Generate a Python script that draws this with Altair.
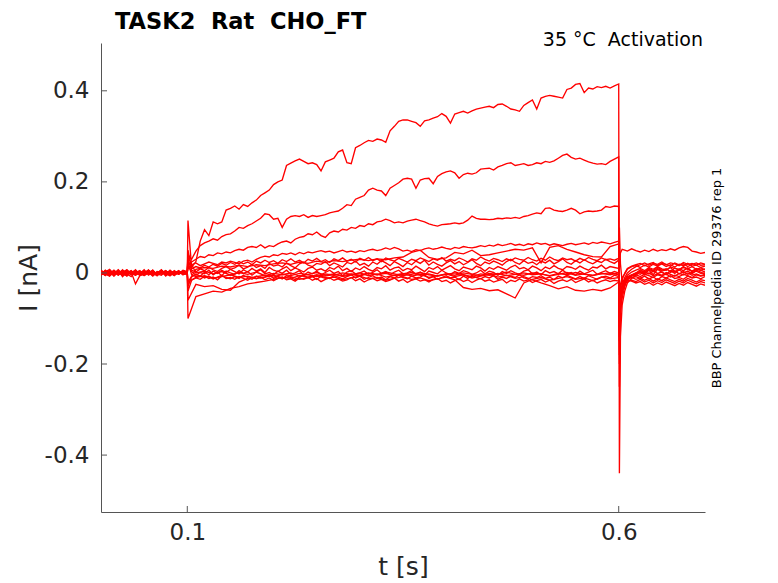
import pandas as pd
import altair as alt

# ---------------- axis ticks / text ----------------
X_TICKS = [0.1, 0.6]
Y_TICKS = [-0.4, -0.2, 0, 0.2, 0.4]
TITLE = "TASK2\u00a0 Rat\u00a0 CHO_FT"
SUBTITLE = "35 °C\u00a0 Activation"
ID_TEXT = "BBP Channelpedia ID 29376 rep 1"

# ---------------- sample times (s) ----------------
PRE_T = [round(0.005 * i, 3) for i in range(21)]          # 0.000 .. 0.100
ON_T = 0.1008                                             # capacitive transient
OFF_T = [0.6008, 0.602, 0.604, 0.607, 0.61, 0.615, 0.62,
         0.625, 0.63, 0.635, 0.64, 0.645, 0.65, 0.655, 0.66,
         0.665, 0.67, 0.675, 0.68, 0.685, 0.69, 0.695, 0.70]

# ---------------- current traces (pA) ----------------
T1_PRE = [3, -4, 6, -2, 5, -8, 2, -3, 4, -1, 7, -5, 1, -6, 3, 0, -4, 5, -2, 4, 2]
T1_ON = 115
T1_STEP = [12, 25, 70, 95, 82, 112, 108, 112, 138, 142,
           147, 140, 150, 146, 154, 160, 170, 176, 182, 194,
           200, 204, 236, 241, 246, 250, 245, 240, 242, 238,
           224, 244, 248, 252, 266, 270, 242, 240, 275, 280,
           286, 291, 289, 294, 292, 287, 312, 322, 333, 336,
           336, 333, 330, 322, 334, 336, 340, 343, 350, 344,
           329, 349, 352, 355, 351, 356, 360, 362, 364, 366,
           363, 370, 371, 366, 360, 358, 355, 368, 374, 380,
           360, 384, 388, 390, 388, 386, 384, 403, 406, 414,
           416, 396, 406, 404, 409, 407, 410, 406, 411, 415]
T1_OFF = [-440, -140, -70, -40, -22, -12, -5, 3, -2, 6, -4, 8, 1, -3, 5, -1, 7, 0, 4, -2, 6, 2, -3]

T2_PRE = [-2, 5, -6, 1, -3, 7, -4, 3, -5, 2, -1, 6, -3, 0, 4, -7, 2, -2, 5, -4, 0]
T2_ON = 40
T2_STEP = [30, 48, 60, 66, 70, 75, 72, 80, 84, 86,
           92, 100, 98, 104, 108, 114, 120, 130, 128, 118,
           120, 100, 118, 124, 126, 124, 128, 122, 126, 124,
           126, 128, 132, 134, 136, 142, 150, 148, 162, 166,
           170, 182, 186, 182, 180, 170, 186, 192, 198, 206,
           208, 206, 186, 204, 207, 208, 196, 212, 218, 222,
           224, 220, 208, 216, 219, 217, 220, 228, 229, 230,
           226, 233, 236, 240, 242, 236, 238, 240, 236, 238,
           242, 240, 245, 243, 246, 252, 258, 261, 254, 250,
           252, 248, 244, 241, 239, 240, 238, 245, 250, 255]
T2_OFF = [-250, -90, -55, -30, -15, -6, -2, 5, 1, 8, 3, 10, 4, 7, 12, 2, 9, 5, 11, 3, 8, 6, 2]

T3_PRE = [4, -3, 2, -7, 3, -2, 6, -4, 1, 5, -6, 0, 3, -2, 7, -5, 1, 4, -3, 2, -1]
T3_ON = 20
T3_STEP = [24, 30, 36, 34, 40, 38, 44, 42, 46, 44,
           49, 52, 50, 56, 58, 56, 62, 55, 60, 58,
           64, 68, 70, 66, 74, 78, 80, 86, 84, 90,
           82, 78, 88, 92, 90, 96, 94, 100, 98, 104,
           102, 108, 106, 112, 114, 118, 115, 110, 112, 110,
           114, 116, 118, 115, 112, 108, 105, 103, 106, 107,
           108, 110, 108, 110, 116, 125, 120, 118, 118, 117,
           118, 120, 119, 121, 120, 122, 120, 124, 126, 129,
           132, 130, 142, 143, 138, 136, 135, 138, 142, 138,
           130, 134, 136, 135, 136, 138, 146, 144, 147, 146]
T3_OFF = [-150, -60, -40, -22, -12, -5, 0, 7, 2, 10, 5, 13, 6, 9, 3, 11, 7, 14, 8, 4, 10, 6, 9]

T4_PRE = [-5, 2, 8, -3, 4, -1, -6, 3, 0, -4, 5, -2, 6, -5, 1, 3, -6, 2, -1, 4, 2]
T4_ON = 10
T4_STEP = [18, 22, 16, 20, 24, 21, 18, 24, 22, 26,
           23, 20, 26, 28, 24, 30, 34, 37, 35, 40,
           38, 43, 41, 44, 40, 45, 42, 46, 44, 47,
           49, 46, 48, 44, 47, 50, 46, 48, 45, 49,
           47, 50, 52, 49, 51, 55, 52, 56, 53, 48,
           50, 47, 51, 49, 53, 55, 52, 54, 57, 54,
           52, 56, 54, 58, 56, 55, 57, 60, 58, 61,
           59, 63, 60, 62, 65, 61, 63, 60, 64, 62,
           66, 63, 65, 61, 64, 62, 60, 63, 65, 62,
           64, 66, 63, 67, 65, 68, 66, 64, 67, 70]
T4_OFF = [25, 44, 52, 50, 48, 53, 49, 46, 50, 47, 52, 48, 51, 49, 53, 50, 55, 58, 56, 48, 46, 43, 45]

T5_PRE = [1, -6, 4, -2, 7, -3, 0, 5, -4, 3, -1, 6, -5, 2, -3, 4, 0, -6, 3, -2, 1]
T5_ON = -20
T5_STEP = [8, 12, 10, 15, 13, 17, 14, 18, 16, 20,
           22, 19, 24, 21, 26, 23, 27, 25, 28, 30,
           27, 31, 29, 33, 35, 45, 50, 34, 30, 33,
           45, 42, 50, 38, 40, 44, 48, 52, 50, 55,
           22, 56, 60, 52, 46, 40, 36, 35, 58, 64]
T5_OFF = [-60, -25, -10, -2, 8, 14, 16, 12, 17, 13, 19, 15, 20, 14, 18, 13, 19, 16, 21, 15, 17, 12, 15]

B1_PRE = [-3, 6, -1, 4, -5, 2, 7, -2, 3, -6, 1, 5, -4, 0, 6, -3, 2, -5, 4, -1, 1]
B1_ON = 30
B1_STEP = [6, 2, 9, 5, 12, 7, 3, 10, 14, 8,
           11, 17, 9, 13, 19, 12, 16, 10, 21, 15,
           18, 13, 22, 16, 11, 20, 24, 17, 14, 21,
           19, 25, 16, 22, 18, 13, 23, 20, 26, 17,
           21, 15, 24, 19, 27, 22, 16, 25, 20, 14,
           23, 18, 26, 21, 28, 17, 24, 19, 15, 22,
           27, 20, 25, 18, 23, 29, 21, 16, 24, 20,
           26, 22, 17, 25, 30, 23, 19, 27, 21, 24,
           18, 26, 22, 28, 20, 25, 31, 23, 19, 27,
           22, 29, 24, 20, 26, 23, 30, 25, 21, 28]
B1_OFF = [-90, -40, -25, -10, 0, 8, 14, 18, 22, 17, 21, 19, 24, 18, 22, 20, 16, 23, 19, 21, 17, 22, 19]

B2_PRE = [5, -2, -7, 3, 1, -4, 4, -1, -5, 2, -3, 6, 0, -6, 3, -2, 5, -4, 1, -1, -2]
B2_ON = -30
B2_STEP = [-9, -3, -7, 2, -4, 4, -1, 6, 1, 8,
           3, -2, 7, 2, 10, 4, 9, 1, 12, 6,
           3, 9, 14, 5, 11, 7, 2, 10, 13, 6,
           9, 4, 12, 8, 15, 5, 10, 3, 11, 7,
           14, 8, 4, 12, 9, 16, 6, 11, 13, 5,
           10, 7, 15, 9, 3, 12, 8, 14, 6, 11,
           16, 9, 5, 13, 10, 7, 15, 11, 4, 12,
           8, 14, 10, 6, 13, 17, 9, 12, 7, 15,
           11, 5, 13, 9, 16, 10, 7, 14, 12, 8,
           15, 10, 6, 13, 11, 17, 9, 14, 12, 10]
B2_OFF = [100, 20, -20, -15, -5, 2, 6, 10, 5, 12, 8, 14, 9, 6, 13, 10, 7, 12, 9, 14, 8, 11, 7]

B3_PRE = [-1, 3, -4, 6, -2, 0, -7, 2, 5, -3, 4, -1, -5, 3, 1, -4, 6, -2, 0, 3, 0]
B3_ON = 15
B3_STEP = [3, -5, 1, -2, 6, -4, 2, -6, 4, 0,
           -3, 5, -1, 3, -5, 2, 7, -2, 1, -4,
           4, -1, 6, -3, 0, 5, -5, 2, -2, 4,
           -4, 1, 6, -1, 3, -6, 2, 5, -2, 0,
           4, -3, 1, 7, -1, 3, -4, 2, 6, -2,
           0, 5, -3, 2, -5, 4, 1, -2, 6, 0,
           -4, 3, -1, 5, 2, -3, 0, 6, -2, 4,
           1, -5, 3, -1, 5, 0, -3, 4, 7, -2,
           2, -4, 5, 0, 3, -2, 6, -1, 1, -5,
           4, -2, 2, 6, -3, 1, 5, -1, 3, 0]
B3_OFF = [-120, -50, -30, -15, -8, -4, 0, -3, 3, -2, 4, -1, 2, -4, 1, 5, -2, 3, -3, 1, 4, -1, 0]

B4_PRE = [2, -5, 1, -3, 6, -6, 3, -2, -1, 4, -4, 2, -7, 1, 5, -3, 0, -5, 3, -2, -3]
B4_ON = -40
B4_STEP = [-16, -11, -14, -7, -12, -9, -15, -6, -10, -13,
           -8, -12, -5, -10, -14, -7, -11, -9, -4, -12,
           -8, -13, -6, -10, -15, -9, -5, -11, -8, -14,
           -7, -10, -12, -6, -9, -13, -8, -4, -11, -7,
           -14, -10, -6, -12, -9, -15, -8, -11, -5, -10,
           -13, -7, -11, -9, -4, -12, -8, -14, -10, -6,
           -11, -9, -15, -7, -12, -5, -10, -13, -8, -11,
           -6, -14, -9, -12, -7, -10, -4, -11, -13, -8,
           -10, -6, -12, -9, -15, -7, -11, -5, -9, -13,
           -8, -12, -6, -10, -14, -9, -7, -11, -5, -8]
B4_OFF = [-180, -70, -40, -25, -14, -10, -8, -12, -7, -13, -9, -15, -8, -11, -6, -12, -10, -14, -7, -11, -9, -13, -8]

B5_PRE = [-4, 1, 5, -6, 2, 3, -2, -8, 4, -1, -5, 3, 0, -3, 6, -2, -6, 1, 4, -4, 2]
B5_ON = 25
B5_STEP = [-4, -8, -6, -11, -7, -13, -9, -5, -12, -10,
           -14, -8, -12, -16, -10, -13, -9, -15, -11, -17,
           -12, -9, -15, -13, -18, -11, -14, -10, -16, -12,
           -19, -14, -11, -16, -13, -18, -15, -10, -17, -13,
           -20, -15, -12, -17, -14, -19, -16, -11, -18, -14,
           -21, -16, -13, -18, -15, -20, -14, -12, -19, -16,
           -22, -17, -13, -19, -15, -21, -16, -12, -18, -15,
           -20, -17, -14, -22, -16, -19, -13, -18, -15, -21,
           -17, -14, -20, -16, -23, -18, -15, -19, -14, -21,
           -17, -13, -20, -16, -22, -18, -15, -19, -16, -18]
B5_OFF = [-100, -55, -35, -22, -18, -16, -19, -14, -20, -16, -22, -17, -21, -15, -19, -23, -18, -22, -16, -20, -24, -19, -22]

B6_PRE = [6, 0, -3, 2, -5, 4, 1, -2, 7, -4, 2, -1, 5, -3, 0, 4, -5, 3, -2, 6, 3]
B6_ON = 50
B6_STEP = [9, 14, 11, 17, 13, 19, 15, 21, 17, 23,
           19, 25, 20, 24, 18, 26, 22, 28, 23, 27,
           21, 29, 25, 31, 24, 28, 22, 30, 26, 32,
           25, 29, 23, 31, 27, 33, 26, 30, 24, 32,
           28, 34, 27, 31, 25, 33, 29, 26, 32, 28,
           24, 30, 27, 33, 29, 25, 31, 28, 34, 26,
           30, 27, 33, 29, 24, 31, 28, 35, 30, 26,
           32, 29, 25, 31, 27, 33, 30, 28, 34, 29,
           26, 32, 28, 35, 30, 27, 33, 29, 31, 26,
           32, 28, 34, 30, 27, 33, 29, 31, 28, 32]
B6_OFF = [-70, -35, -15, 0, 10, 15, 18, 21, 16, 20, 23, 17, 21, 19, 15, 22, 18, 20, 14, 19, 22, 17, 18]

N1_PRE = [3, -2, 0, 5, -3, 1, -4, 2, -24, -6, -3, 4, 2, -2, -5, 3, 1, -4, 2, -1, 1]
N1_ON = -100
N1_STEP = [-52, -46, -40, -42, -34, -30, -24, -21, -18, -14,
           -10, -12, -6, -9, -4, -7, -3, -6, -2, -5,
           0, -4, -1, -6, -3, 1, -5, -2, -7, -3,
           0, -4, -8, -2, -5, -1, -6, -3, 0, -4,
           -2, -7, -3, 1, -5, -2, -6, -1, -4, 0]
N1_OFF = [-140, -60, -35, -18, -10, -5, -2, 1, -4, 0, -6, -2, -5, 1, -3, -7, -1, -4, 0, -5, -2, -6, -3]

N2_PRE = [-2, 4, -5, 1, 3, -6, 0, 4, -3, 2, -1, 5, -4, -1, 3, -5, 2, 0, -3, 4, -1]
N2_ON = -60
N2_STEP = [-25, -30, -28, -36, -38, -20, -12, -8, -5, -9,
           -3, -6, -1, -4, -8, -2, -5, 0, -3, -7,
           -1, -4, 2, -2, -6, -3, 1, -4, -7, -2,
           -5, 0, -3, -6, -1, -4, 2, -3, -5, 0,
           -2, -6, -1, -4, 1, -3, -5, -2, 0, -4]
N2_OFF = [-200, -80, -45, -25, -12, -7, -4, -8, -3, -6, -10, -4, -7, -2, -9, -5, -8, -3, -6, -10, -4, -7, -5]

L1_PRE = [0, -3, 5, -4, 2, -1, 6, -3, -2, 3, -5, 1, 4, -2, 0, 5, -4, 2, -1, 3, 0]
L1_ON = -20
L1_STEP = [-10, -6, -12, -8, -4, -10, -7, -12, -9, -5,
           -11, -8, -14, -10, -6, -12, -9, -15, -11, -7,
           -13, -10, -16, -12, -8, -14, -11, -17, -13, -9,
           -15, -32, -36, -34, -39, -37, -46, -55, -22, -14,
           -10, -16, -12, -8, -14, -11, -17, -9, -13, -10]
L1_OFF = [-110, -50, -30, -18, -12, -10, -14, -11, -16, -12, -18, -13, -17, -11, -15, -19, -14, -18, -12, -16, -20, -15, -17]

L2_PRE = [4, -1, -6, 2, 0, 5, -3, 1, -4, 0, 3, -2, 6, -5, 2, -1, 4, -3, 0, -2, 2]
L2_ON = 35
L2_STEP = [0, 4, -2, 3, -5, 1, -3, 2, -6, -1,
           -4, 0, -7, -3, 1, -5, -2, -8, -4, 0,
           -6, -2, -9, -5, -1, -7, -3, -10, -6, -2,
           -8, -4, -11, -7, -3, -9, -5, -12, -8, -15,
           -22, -28, -35, -30, -38, -40, -36, -39, -33, -20]
L2_OFF = [-90, -45, -30, -20, -15, -18, -22, -19, -25, -21, -27, -22, -26, -20, -24, -28, -23, -27, -21, -25, -29, -24, -27]

TRACES = {
    "T1": (T1_PRE, T1_ON, T1_STEP, T1_OFF),
    "T2": (T2_PRE, T2_ON, T2_STEP, T2_OFF),
    "T3": (T3_PRE, T3_ON, T3_STEP, T3_OFF),
    "T4": (T4_PRE, T4_ON, T4_STEP, T4_OFF),
    "T5": (T5_PRE, T5_ON, T5_STEP, T5_OFF),
    "B1": (B1_PRE, B1_ON, B1_STEP, B1_OFF),
    "B2": (B2_PRE, B2_ON, B2_STEP, B2_OFF),
    "B3": (B3_PRE, B3_ON, B3_STEP, B3_OFF),
    "B4": (B4_PRE, B4_ON, B4_STEP, B4_OFF),
    "B5": (B5_PRE, B5_ON, B5_STEP, B5_OFF),
    "B6": (B6_PRE, B6_ON, B6_STEP, B6_OFF),
    "N1": (N1_PRE, N1_ON, N1_STEP, N1_OFF),
    "N2": (N2_PRE, N2_ON, N2_STEP, N2_OFF),
    "L1": (L1_PRE, L1_ON, L1_STEP, L1_OFF),
    "L2": (L2_PRE, L2_ON, L2_STEP, L2_OFF),
}

rows = []
for name, (pre, on, step, off) in TRACES.items():
    n = len(step)
    step_t = [round(0.1 + 0.5 * (i + 1) / n, 5) for i in range(n)]
    ts = PRE_T[:len(pre)] + [ON_T] + step_t + OFF_T[:len(off)]
    vs = pre + [on] + step + off
    for t, v in zip(ts, vs):
        rows.append({"trace": name, "t": t, "I": v / 1000.0})
df = pd.DataFrame(rows)

W, H = 604, 469
FONT = "DejaVu Sans"
AX = "#262626"
AXLINE = "#555555"

xs = alt.Scale(domain=[0, 0.7], nice=False, zero=False)
ys = alt.Scale(domain=[-0.525, 0.505], nice=False, zero=False)

lines = alt.Chart(df).mark_line(color="#ff0000", strokeWidth=1.35, clip=True).encode(
    x=alt.X("t:Q", scale=xs, axis=alt.Axis(
        values=X_TICKS, title="t [s]", tickSize=0, labelPadding=9,
        labelFontSize=23, labelColor=AX, labelFont=FONT, format=".1f",
        titleFontSize=25, titleFontWeight="normal", titleColor=AX, titleFont=FONT,
        titleX=W / 2, titleY=54, titleBaseline="middle",
        domainColor=AXLINE, grid=False)),
    y=alt.Y("I:Q", scale=ys, axis=alt.Axis(
        values=Y_TICKS, title="I [nA]", tickSize=0, labelPadding=12,
        labelFontSize=23, labelColor=AX, labelFont=FONT,
        labelExpr="datum.value == 0 ? '0' : (datum.value < 0 ? '-' + format(-datum.value, '.1f') : format(datum.value, '.1f'))",
        titleFontSize=25, titleFontWeight="normal", titleColor=AX, titleFont=FONT,
        titleX=-73, titleY=H / 2, titleBaseline="middle",
        domainColor=AXLINE, grid=False)),
    detail="trace:N",
)

# inward-pointing tick marks (MATLAB style)
yticks = alt.Chart(pd.DataFrame({"I": Y_TICKS})).mark_rule(color=AXLINE, strokeWidth=1).encode(
    y="I:Q", x=alt.value(0), x2=alt.value(6))
xticks = alt.Chart(pd.DataFrame({"t": X_TICKS})).mark_rule(color=AXLINE, strokeWidth=1).encode(
    x="t:Q", y=alt.value(H), y2=alt.value(H - 6))

one = pd.DataFrame({"a": [0]})
ttl = alt.Chart(one).mark_text(align="left", baseline="alphabetic", fontSize=22.5, fontWeight="bold",
                               font=FONT, color="black").encode(
    x=alt.value(14), y=alt.value(-14), text=alt.value(TITLE))
sub = alt.Chart(one).mark_text(align="right", baseline="alphabetic", fontSize=19,
                               font=FONT, color="black").encode(
    x=alt.value(602), y=alt.value(3), text=alt.value(SUBTITLE))
idt = alt.Chart(one).mark_text(align="center", baseline="middle", fontSize=13, angle=270,
                               font=FONT, color="black").encode(
    x=alt.value(616), y=alt.value(235), text=alt.value(ID_TEXT))

chart = alt.layer(lines, yticks, xticks, ttl, sub, idt).properties(
    width=W, height=H,
    autosize=alt.AutoSizeParams(type="none"),
    padding={"left": 93, "top": 35, "right": 60, "bottom": 70},
    background="white",
).configure_view(stroke=None)

chart.save("out.html", embed_options={"renderer": "svg", "actions": False})
